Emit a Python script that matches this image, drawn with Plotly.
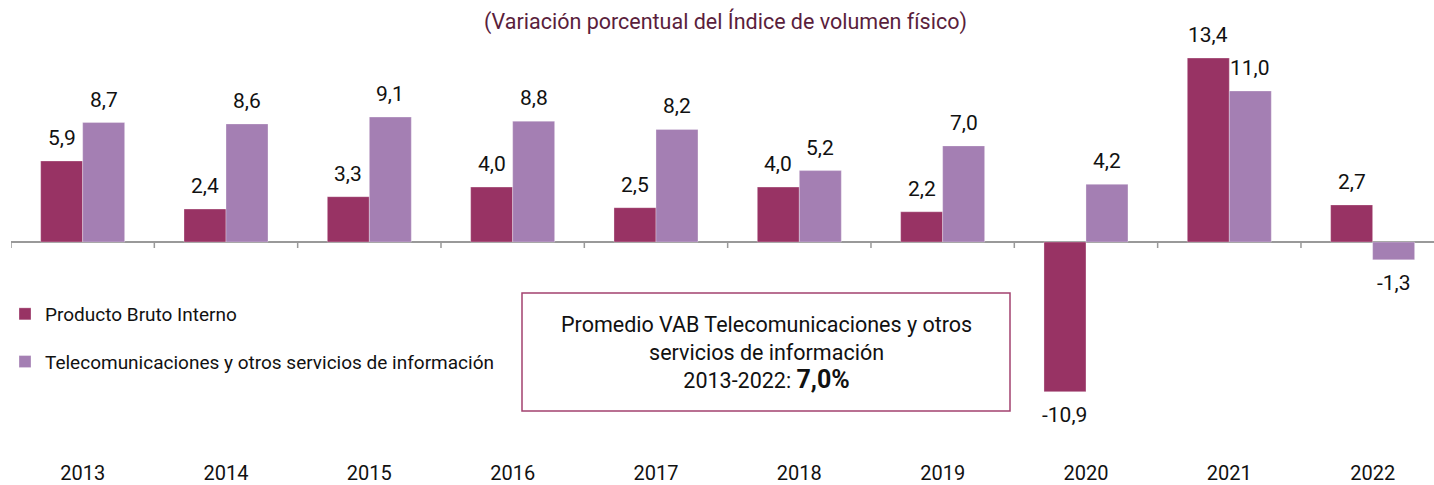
import plotly.graph_objects as go

years = ["2013", "2014", "2015", "2016", "2017", "2018", "2019", "2020", "2021", "2022"]
pib = [5.9, 2.4, 3.3, 4.0, 2.5, 4.0, 2.2, -10.9, 13.4, 2.7]
telecom = [8.7, 8.6, 9.1, 8.8, 8.2, 5.2, 7.0, 4.2, 11.0, -1.3]
series_names = ["Producto Bruto Interno", "Telecomunicaciones y otros servicios de información"]
title_text = "(Variación porcentual del Índice de volumen físico)"
box_lines = ["Promedio VAB Telecomunicaciones y otros", "servicios de información", "2013-2022: "]
box_value = "7,0%"

C_PIB = "#983364"
C_TEL = "#a47fb3"
FONT = "Roboto"

W, H = 1434, 485
ML, MR, MT, MB = 11, 0, 0, 26
PW, PH = W - ML - MR, H - MT - MB
PX_PER_CAT = 143.33
PX_PER_UNIT = 13.73
ZERO_PY = 242
BARGAP = 0.414


def fmt(v):
    return f"{v:.1f}".replace(".", ",")


fig = go.Figure()
fig.add_trace(go.Bar(x=list(range(len(years))), y=pib, name=series_names[0],
                     marker=dict(color=C_PIB, line=dict(color="rgba(255,255,255,0.6)", width=0.5)),
                     legendgroup="a"))
fig.add_trace(go.Bar(x=list(range(len(years))), y=telecom, name=series_names[1],
                     marker=dict(color=C_TEL, line=dict(color="rgba(255,255,255,0.6)", width=0.5)),
                     legendgroup="b"))

bw = (1 - BARGAP) / 2
annotations = []
for vals, off in ((pib, -bw / 2), (telecom, bw / 2)):
    for i, v in enumerate(vals):
        annotations.append(dict(
            x=i + off, y=v, xref="x", yref="y", text=fmt(v), showarrow=False,
            yanchor="bottom" if v >= 0 else "top", yshift=9 if v >= 0 else -9,
            font=dict(family=FONT, size=21, color="#111111")))

annotations.append(dict(x=(725 - ML) / PW, y=1 - 22 / PH, xref="paper", yref="paper",
                        text=title_text, showarrow=False, yanchor="middle",
                        font=dict(family=FONT, size=21.5, color="#5a1e3c")))

box_text = "<br>".join(box_lines[:-1]) + "<br>" + box_lines[-1] + \
    f"<b><span style='font-size:25px'>{box_value}</span></b>"
annotations.append(dict(x=(766 - ML) / PW, y=1 - 353 / PH, xref="paper", yref="paper",
                        text=box_text, showarrow=False, yanchor="middle", align="center",
                        font=dict(family=FONT, size=21.5, color="#111111")))

shapes = [dict(type="rect", xref="paper", yref="paper",
               x0=(522 - ML) / PW, x1=(1010 - ML) / PW,
               y0=1 - 411 / PH, y1=1 - 293 / PH,
               line=dict(color="#a3426f", width=1.5), fillcolor="rgba(0,0,0,0)")]
tick_len = 6 / PX_PER_UNIT
for i in range(len(years) + 1):
    shapes.append(dict(type="line", xref="x", yref="y", x0=i - 0.5, x1=i - 0.5,
                       y0=0, y1=-tick_len, line=dict(color="#999999", width=1.5)))

y_top = ZERO_PY / PX_PER_UNIT
y_bot = -(PH - ZERO_PY) / PX_PER_UNIT
x_max = -0.5 + PW / PX_PER_CAT

fig.update_layout(
    width=W, height=H,
    margin=dict(l=ML, r=MR, t=MT, b=MB, autoexpand=False),
    paper_bgcolor="white", plot_bgcolor="white",
    barmode="group", bargap=BARGAP, bargroupgap=0,
    font=dict(family=FONT, size=19, color="#111111"),
    showlegend=True,
    legend=dict(xref="paper", x=-6 / PW, yref="paper", y=1 - 295 / PH,
                xanchor="left", yanchor="top", tracegroupgap=20,
                font=dict(family=FONT, size=19, color="#111111"),
                bgcolor="rgba(0,0,0,0)"),
    xaxis=dict(tickmode="array", tickvals=list(range(len(years))), ticktext=years,
               range=[-0.5, x_max], showgrid=False, showline=False, ticks="",
               automargin=False,
               tickfont=dict(family=FONT, size=20, color="#111111"), zeroline=False),
    yaxis=dict(range=[y_bot, y_top], showgrid=False, showticklabels=False, ticks="",
               automargin=False,
               zeroline=True, zerolinecolor="#999999", zerolinewidth=2, showline=False),
    annotations=annotations, shapes=shapes,
)

fig.write_html("out.html", config={"displayModeBar": False},
               post_script="document.body.style.margin='0px';")
